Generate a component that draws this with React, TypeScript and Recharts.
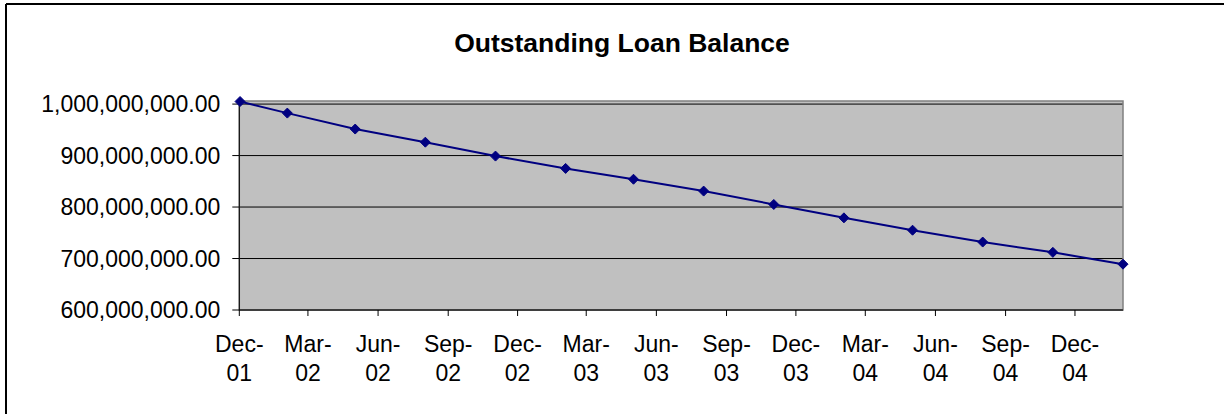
import { CartesianGrid, Line, LineChart, ReferenceArea, XAxis, YAxis } from "recharts";

const FONT = "'Liberation Sans', Arial, sans-serif";
const NAVY = "#000080";

// balance at each payment date
const PAYMENT_DATES = [
  "2001-12-02", "2002-02-02", "2002-05-02", "2002-08-02", "2002-11-02",
  "2003-02-02", "2003-05-02", "2003-08-02", "2003-11-02", "2004-02-02",
  "2004-05-02", "2004-08-02", "2004-11-02", "2005-02-02",
];
const BALANCE = [
  1005000000, 982500000, 951500000, 926000000, 899000000,
  875000000, 854000000, 831000000, 805000000, 779000000,
  755000000, 732000000, 712000000, 689000000,
];

const TICK_DATES = [
  "2001-12-01", "2002-03-01", "2002-06-01", "2002-09-01", "2002-12-01",
  "2003-03-01", "2003-06-01", "2003-09-01", "2003-12-01", "2004-03-01",
  "2004-06-01", "2004-09-01", "2004-12-01",
];
const TICK_LABELS = [
  "Dec-01", "Mar-02", "Jun-02", "Sep-02", "Dec-02", "Mar-03", "Jun-03",
  "Sep-03", "Dec-03", "Mar-04", "Jun-04", "Sep-04", "Dec-04",
];
const Y_TICKS = [600000000, 700000000, 800000000, 900000000, 1000000000];

const dayOf = (iso: string) => {
  const [y, m, d] = iso.split("-").map(Number);
  return Date.UTC(y, m - 1, d) / 86400000;
};

const tickDays = TICK_DATES.map(dayOf);
const data = PAYMENT_DATES.map((d, i) => ({ t: dayOf(d), balance: BALANCE[i] }));
const xDomain = [tickDays[0], dayOf(PAYMENT_DATES[PAYMENT_DATES.length - 1])];
const yDomain = [600000000, 1006000000];

const fmt = (v: number) =>
  v.toLocaleString("en-US", { minimumFractionDigits: 2, maximumFractionDigits: 2 });

function MonthTick(props: any) {
  const { x, y, payload } = props;
  const idx = tickDays.indexOf(payload.value);
  const label = TICK_LABELS[idx] ?? "";
  const [top, bottom] = label.split("-");
  return (
    <text x={x} textAnchor="middle" fill="#000" fontSize={23} fontFamily={FONT}>
      <tspan x={x} y={y + 36}>{top}-</tspan>
      <tspan x={x} y={y + 65}>{bottom}</tspan>
    </text>
  );
}

function Diamond(props: any) {
  const { cx, cy, index } = props;
  if (cx == null || cy == null) return null;
  const r = 5;
  return (
    <polygon
      key={index}
      points={`${cx},${cy - r} ${cx + r},${cy} ${cx},${cy + r} ${cx - r},${cy}`}
      fill={NAVY}
      stroke={NAVY}
    />
  );
}

export default function App() {
  return (
    <div style={{ position: "absolute", left: 0, top: 0, width: 1224, height: 414, background: "#fff" }}>
      <LineChart width={1224} height={414} data={data} margin={{ top: 101, right: 101, bottom: 0, left: 0 }}>
        <CartesianGrid fill="#C0C0C0" vertical={false} stroke="#000" horizontalValues={Y_TICKS} />
        <ReferenceArea
          x1={xDomain[0]}
          x2={xDomain[1]}
          y1={yDomain[0]}
          y2={yDomain[1]}
          fill="none"
          stroke="#808080"
          strokeWidth={1.5}
        />
        <XAxis
          type="number"
          dataKey="t"
          domain={xDomain}
          ticks={tickDays}
          interval={0}
          height={104}
          tickSize={6}
          tickMargin={0}
          stroke="#000"
          tick={<MonthTick />}
        />
        <YAxis
          type="number"
          domain={yDomain}
          ticks={Y_TICKS}
          interval={0}
          width={239.3}
          tickSize={7}
          tickMargin={12}
          stroke="#000"
          tickFormatter={fmt}
          tick={{ fill: "#000", fontSize: 23, fontFamily: FONT }}
        />
        <Line
          type="linear"
          dataKey="balance"
          stroke={NAVY}
          strokeWidth={2}
          dot={<Diamond />}
          activeDot={false}
          isAnimationActive={false}
        />
      </LineChart>
      <svg
        width={1224}
        height={414}
        style={{ position: "absolute", left: 0, top: 0, pointerEvents: "none" }}
      >
        <line x1={6} y1={4} x2={6} y2={414} stroke="#000" strokeWidth={2} />
        <line x1={6} y1={4} x2={1224} y2={4} stroke="#000" strokeWidth={2} />
        <text x={622} y={52} textAnchor="middle" fontFamily={FONT} fontWeight="bold" fontSize={26.5} fill="#000">
          Outstanding Loan Balance
        </text>
      </svg>
    </div>
  );
}
